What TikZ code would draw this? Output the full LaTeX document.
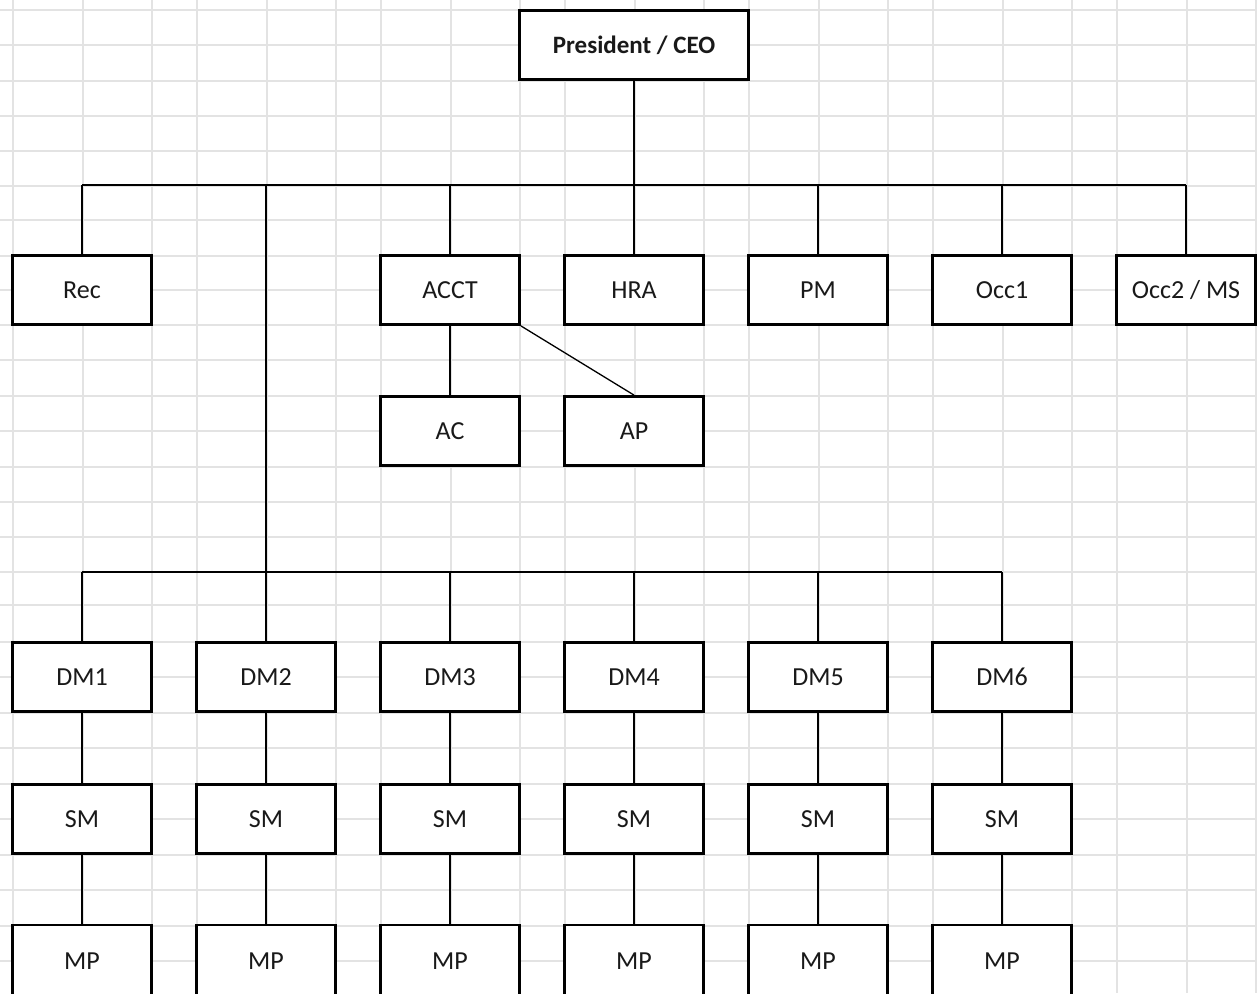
\documentclass[tikz,border=0pt]{standalone}
\usepackage{fontspec}
\setmainfont{Carlito}
\begin{document}
\begin{tikzpicture}[x=1pt,y=-1pt,
  box/.style={draw=black,line width=2.8pt,fill=white,minimum width=139pt,minimum height=69pt,inner sep=0pt,font=\fontsize{26}{30}\selectfont,text=black!90},
  conn/.style={draw=black,line width=1.3pt},
  gridln/.style={draw=black!11,line width=1.5pt}]
\useasboundingbox (0,0) rectangle (1257,993);
\fill[white] (0,0) rectangle (1257,993);
\clip (0,0) rectangle (1257,993);
% spreadsheet grid
\foreach \gx in {13,83,152,197,267,336,381,451,520,565,635,704,749,819,888,933,1003,1072,1117,1187,1256}
  \draw[gridln] (\gx,0) -- (\gx,993);
\foreach \gy in {10,45,81,116,151,186,220,256,290,325,360,396,431,467,502,537,572,605,642,677,713,748,784,819,855,890,926,961}
  \draw[gridln] (0,\gy) -- (1257,\gy);
% nodes
\node[box,minimum width=229pt,font=\fontsize{25}{30}\selectfont\bfseries] (pres) at (634,45) {President / CEO};
\node[box] (rec) at (82,290) {Rec};
\node[box] (acct) at (450,290) {ACCT};
\node[box] (hra) at (634,290) {HRA};
\node[box] (pm) at (818,290) {PM};
\node[box] (occ1) at (1002,290) {Occ1};
\node[box] (occ2) at (1186,290) {Occ2 / MS};
\node[box] (ac) at (450,431) {AC};
\node[box] (ap) at (634,431) {AP};
\foreach \i/\cx in {1/82,2/266,3/450,4/634,5/818,6/1002} {
  \node[box] (dm\i) at (\cx,677) {DM\i};
  \node[box] (sm\i) at (\cx,819) {SM};
  \node[box,minimum height=74pt] (mp\i) at (\cx,962) {\raisebox{2pt}{MP}};
}
% bus coordinates
\coordinate (busA) at (82,185);
\coordinate (busB) at (1186,185);
\coordinate (busC) at (82,572);
\coordinate (busD) at (1002,572);
% connectors
\draw[conn] (pres.south) -- (pres.south |- busA);
\draw[conn] (busA) -- (busB);
\foreach \n in {rec,acct,hra,pm,occ1,occ2}
  \draw[conn] (\n.north) -- (\n.north |- busA);
\draw[conn] (dm2.north) -- (dm2.north |- busA);
\draw[conn] (busC) -- (busD);
\foreach \i in {1,3,4,5,6}
  \draw[conn] (dm\i.north) -- (dm\i.north |- busC);
\draw[conn] (acct.south) -- (ac.north);
\draw[conn] (acct.south east) -- (ap.north);
\foreach \i in {1,...,6} {
  \draw[conn] (dm\i.south) -- (sm\i.north);
  \draw[conn] (sm\i.south) -- (mp\i.north);
}
\end{tikzpicture}
\end{document}
